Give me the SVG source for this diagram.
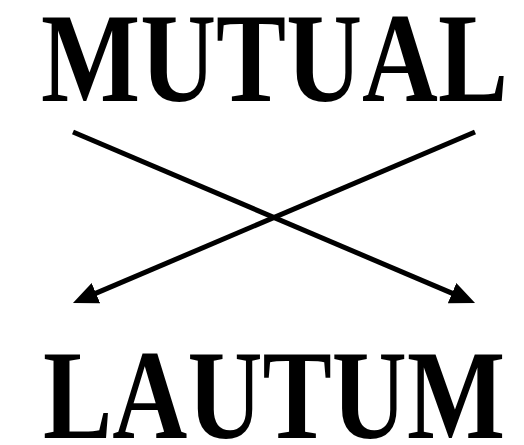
<svg xmlns="http://www.w3.org/2000/svg" width="524" height="445" viewBox="0 0 524 445">
  <style>
    .word { font-family: "Liberation Serif", "DejaVu Serif", serif; font-weight: bold; font-size: 127px; fill: #000; }
    .conn { stroke: #000; stroke-width: 5; fill: none; marker-end: url(#arrow); }
  </style>
  <defs>
    <marker id="arrow" viewBox="0 -11 25 22" markerWidth="25" markerHeight="22" refX="3" refY="0" orient="auto" markerUnits="userSpaceOnUse">
      <path d="M0,-11 L25,0 L0,11 z" fill="#000"/>
    </marker>
  </defs>
  <rect width="524" height="445" fill="#fff"/>
  <g id="node-mutual">
    <text class="word" x="41" y="101" textLength="467" lengthAdjust="spacingAndGlyphs">MUTUAL</text>
  </g>
  <g id="node-lautum">
    <text class="word" x="43" y="438" textLength="462" lengthAdjust="spacingAndGlyphs">LAUTUM</text>
  </g>
  <g id="connectors">
    <line class="conn" x1="73" y1="132" x2="454.8" y2="294.4"/>
    <line class="conn" x1="475" y1="132" x2="93.2" y2="294.4"/>
  </g>
</svg>
